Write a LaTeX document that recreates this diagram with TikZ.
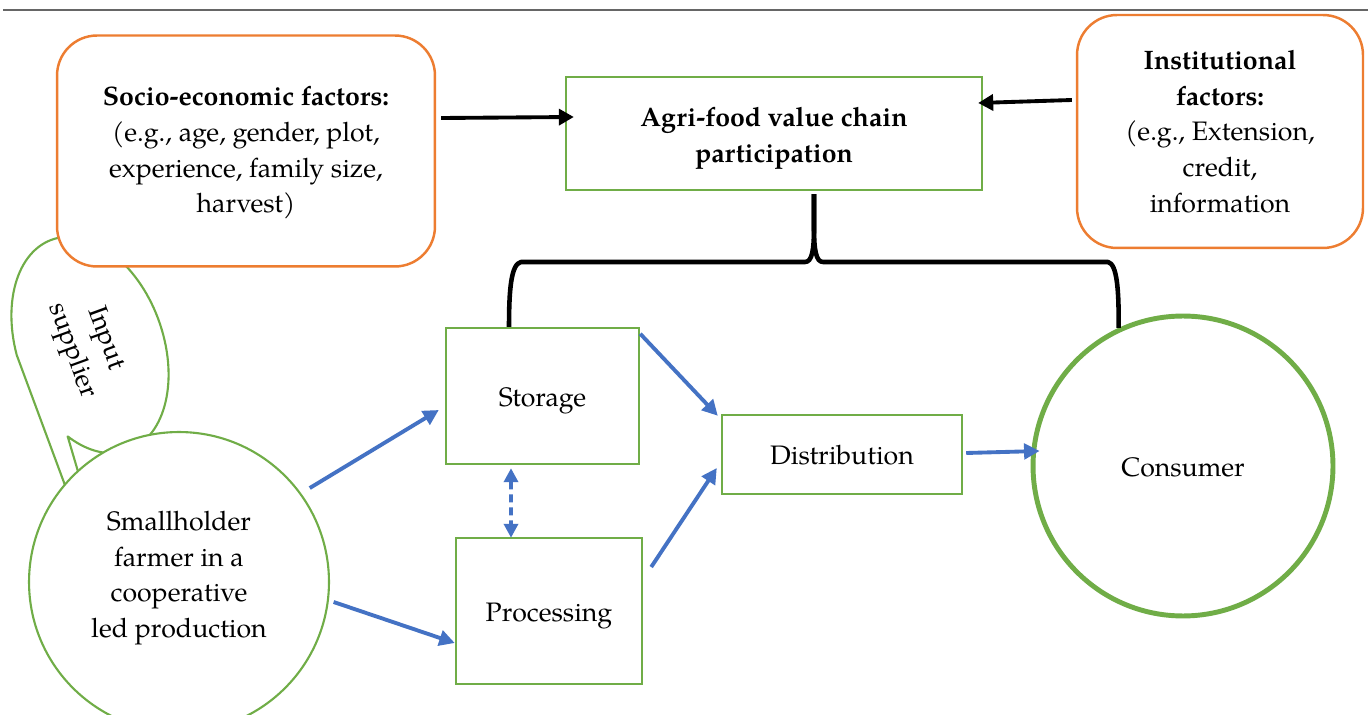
\documentclass[tikz,border=0pt]{standalone}
\usepackage{fontspec}
\setmainfont{texgyrepagella}[Extension=.otf, UprightFont=*-regular, BoldFont=*-bold, ItalicFont=*-italic, BoldItalicFont=*-bolditalic]
\usetikzlibrary{arrows.meta,shapes.geometric,calc}
\definecolor{ggreen}{HTML}{70AD47}
\definecolor{gorange}{HTML}{ED7D31}
\definecolor{gblue}{HTML}{4472C4}
\tikzset{
  txt/.style={font=\fontsize{15.2}{20.3}\selectfont, align=center},
  greenbox/.style={txt, draw=ggreen, line width=1.4pt, fill=white, inner sep=0pt, text height=1.3em, text depth=0.15em},
  factorbox/.style={txt, draw=gorange, line width=1.4pt, fill=white, inner sep=0pt, rounded corners=0.8cm},
  roundnode/.style={txt, circle, draw=ggreen, fill=white, inner sep=0pt},
  barrow/.style={draw=gblue, line width=2.2pt, -{Triangle[length=0.31cm, width=0.31cm]}},
  karrow/.style={draw=black, line width=2.2pt, -{Triangle[length=0.3cm, width=0.32cm]}},
  bracepath/.style={draw=black, line width=2.6pt, line join=round},
}
\begin{document}
\begin{tikzpicture}[x=0.02cm, y=-0.02cm]
\useasboundingbox (0,0) rectangle (1371,715);
\fill[white] (0,0) rectangle (1371,715);

% top rule
\draw[gray!80!black, line width=1pt] (3,10) -- (1368,10);

% input supplier callout
\begin{scope}[shift={(90,345)}, rotate=-70]
  \filldraw[draw=ggreen, fill=white, line width=1.2pt, line join=round]
    (98:112 and 73) arc[start angle=98, end angle=405.7, x radius=112, y radius=73]
    -- (360,70) -- cycle;
\end{scope}
\node[txt, rotate=-70] (supplier) at (88,345) {Input\\supplier};

% factor boxes
\node[factorbox, minimum width=7.56cm, minimum height=4.62cm] (socio) at (246,151) {};
\node[txt] (sociotext) at (246,153)
  {\textbf{Socio-economic factors:}\\(e.g., age, gender, plot,\\experience, family size,\\harvest)};
\node[factorbox, minimum width=5.72cm, minimum height=4.66cm] (inst) at (1220,131.5)
  {\textbf{Institutional}\\\textbf{factors:}\\(e.g., Extension,\\credit,\\information};

% main box
\node[draw=ggreen, line width=1.4pt, fill=white, inner sep=0pt, minimum width=8.32cm, minimum height=2.26cm] (agri) at (774,133.5) {};
\node[txt] (agritext) at (774,138.5) {\textbf{Agri-food value chain}\\\textbf{participation}};

% chain nodes
\node[greenbox, minimum width=3.86cm, minimum height=2.72cm] (storage) at (542.5,396) {Storage};
\node[greenbox, minimum width=3.72cm, minimum height=2.92cm] (processing) at (549,611) {Processing};
\node[greenbox, minimum width=4.8cm, minimum height=1.58cm] (distribution) at (842,454.5) {Distribution};
\node[roundnode, line width=2.8pt, minimum size=6cm, text height=1.3em, text depth=0.15em] (consumer) at (1183,466) {Consumer};
\node[roundnode, line width=1.2pt, minimum size=6cm] (small) at (179,582) {};
\node[txt] (smalltext) at (179,578)
  {Smallholder\\farmer in a\\cooperative\\led production};

% black arrows into the participation box
\draw[karrow] ([xshift=0.1cm, yshift=0.66cm]socio.east) -- ([xshift=0.18cm, yshift=0.33cm]agri.west);
\draw[karrow] ([xshift=-0.08cm, yshift=0.63cm]inst.west) -- ([xshift=-0.1cm, yshift=0.61cm]agri.east);

% brace
\coordinate (bL) at ([xshift=-0.67cm]storage.north);
\coordinate (bR) at (consumer.115);
\coordinate (bT) at ([xshift=0.8cm, yshift=-0.06cm]agri.south);
\draw[bracepath] (bT) -- (814,228) .. controls (814,250) and (812,262) .. (805,262)
  -- (521,262) .. controls (511,264) and (509,290) .. (bL);
\draw[bracepath] (bT) -- (814,228) .. controls (814,250) and (816,262) .. (823,262)
  -- (1108,262) .. controls (1117,264) and (1119,290) .. (bR);

% blue flow arrows
\draw[barrow, shorten <=0.2cm] (small.36) -- ([xshift=-0.12cm, yshift=-0.28cm]storage.west);
\draw[barrow, shorten <=0.1cm] (small.-7) -- ([yshift=-0.64cm]processing.west);
\draw[barrow] ([yshift=-0.14cm]storage.north east) -- ([xshift=-0.06cm, yshift=-0.04cm]distribution.north west);
\draw[barrow] ([xshift=0.16cm, yshift=0.88cm]processing.east) -- ([xshift=-0.08cm, yshift=-0.27cm]distribution.west);
\draw[draw=gblue, line width=2.2pt, dash pattern=on 0.16cm off 0.1cm,
  {Triangle[length=0.28cm, width=0.28cm]}-{Triangle[length=0.28cm, width=0.28cm]}]
  ([xshift=-0.63cm, yshift=-0.06cm]storage.south) -- ([xshift=-0.76cm, yshift=-0.02cm]processing.north);
\draw[barrow] ([xshift=0.06cm, yshift=0.03cm]distribution.east) -- ([xshift=0.18cm, yshift=0.3cm]consumer.west);
\end{tikzpicture}
\end{document}
